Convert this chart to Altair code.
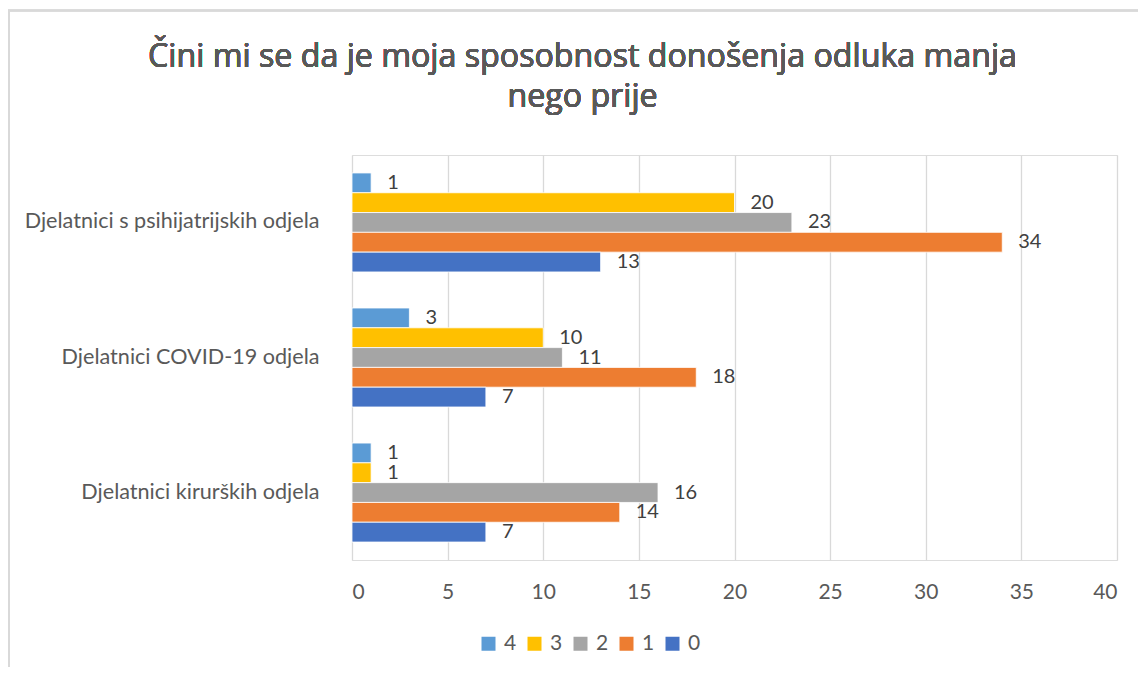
import altair as alt
import pandas as pd

categories = ["Djelatnici s psihijatrijskih odjela", "Djelatnici COVID-19 odjela", "Djelatnici kirurških odjela"]
series = ["4", "3", "2", "1", "0"]
colors = ["#5B9BD5", "#FFC000", "#A5A5A5", "#ED7D31", "#4472C4"]
values_4 = [1, 3, 1]
values_3 = [20, 10, 1]
values_2 = [23, 11, 16]
values_1 = [34, 18, 14]
values_0 = [13, 7, 7]
x_ticks = [0, 5, 10, 15, 20, 25, 30, 35, 40]
title_lines = ["Čini mi se da je moja sposobnost donošenja odluka manja", "nego prije"]

rows = []
for s, vals in zip(series, [values_4, values_3, values_2, values_1, values_0]):
    for c, v in zip(categories, vals):
        rows.append({"category": c, "series": s, "value": v})
df = pd.DataFrame(rows)

FONT = "Lato"
TITLE_FONT = "Open Sans"

y_enc = alt.Y("category:N", sort=categories, title=None,
              scale=alt.Scale(paddingInner=0.267, paddingOuter=0.133),
              axis=alt.Axis(domain=False, ticks=False, grid=False, labelFontSize=21.6,
                            labelColor="#595959", labelFont=FONT, labelPadding=33, labelLimit=400))
x_enc = alt.X("value:Q", title=None,
              scale=alt.Scale(domain=[0, 40], nice=False),
              axis=alt.Axis(values=x_ticks, domain=False, ticks=False, grid=True,
                            gridColor="#D9D9D9", gridWidth=1.3, labelFontSize=21,
                            labelColor="#595959", labelFont=FONT, labelPadding=21))
yoff = alt.YOffset("series:N", sort=series, scale=alt.Scale(paddingInner=0, paddingOuter=0))

bars = alt.Chart(df).mark_bar(stroke="white", strokeWidth=0.8).encode(
    y=y_enc, x=x_enc, yOffset=yoff,
    color=alt.Color("series:N", sort=series,
                    scale=alt.Scale(domain=series, range=colors),
                    legend=alt.Legend(title=None, orient="none", direction="horizontal",
                                      legendX=126, legendY=478, symbolType="square",
                                      symbolSize=196, symbolStrokeWidth=0,
                                      labelFontSize=21, labelColor="#595959", labelFont=FONT,
                                      labelOffset=5, columnPadding=7)),
)

labels = alt.Chart(df).mark_text(align="left", baseline="middle", dx=16, fontSize=20,
                                 color="#404040", font=FONT).encode(
    y=alt.Y("category:N", sort=categories), x=alt.X("value:Q"), yOffset=yoff,
    text=alt.Text("value:Q"),
)

title1 = alt.Chart(df).mark_text(align="center", baseline="alphabetic", fontSize=32.2,
                                 fontWeight=400, color="#595959", font=TITLE_FONT).encode(
    x=alt.value(230.5), y=alt.value(-88), text=alt.value(title_lines[0]))
title2 = alt.Chart(df).mark_text(align="center", baseline="alphabetic", fontSize=32.2,
                                 fontWeight=400, color="#595959", font=TITLE_FONT).encode(
    x=alt.value(230.5), y=alt.value(-48), text=alt.value(title_lines[1]))

border_left = alt.Chart(df).mark_rule(color="#D9D9D9", strokeWidth=1.5).encode(
    x=alt.value(-343), y=alt.value(-144.5), y2=alt.value(600))
border_top = alt.Chart(df).mark_rule(color="#D9D9D9", strokeWidth=1.5).encode(
    x=alt.value(-345), x2=alt.value(800), y=alt.value(-144.5))

chart = alt.layer(border_left, border_top, title1, title2, bars, labels).properties(
    width=765, height=405,
    autosize=alt.AutoSizeParams(type="none"),
    padding={"left": 344, "top": 147, "right": 21, "bottom": 107},
).configure_view(stroke=None, strokeWidth=0).configure(background="white")

chart.save("out.html", embed_options={"renderer": "svg", "actions": False})
